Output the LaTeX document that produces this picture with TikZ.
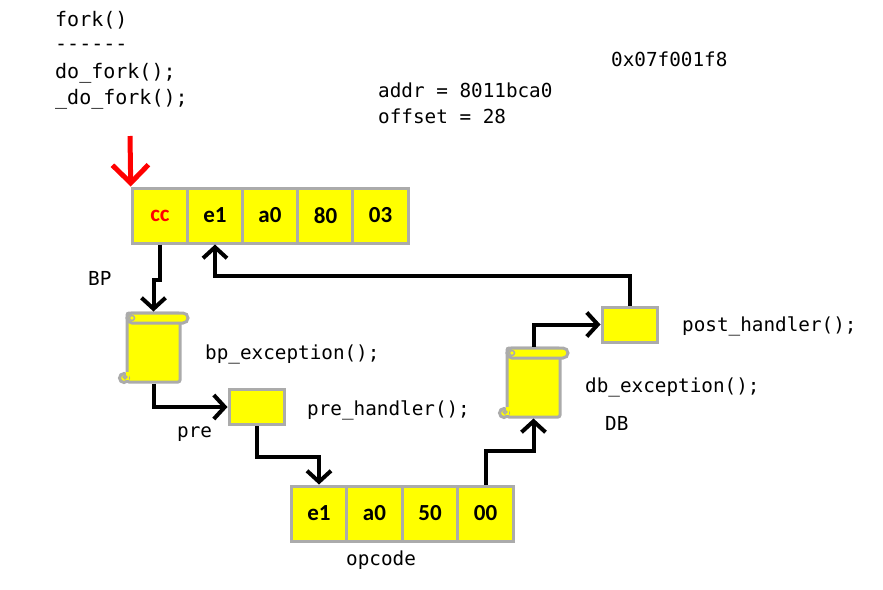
\documentclass[tikz,border=0pt]{standalone}
\usepackage{fontspec}
\setmonofont{DejaVu Sans Mono}
\newfontfamily\boxfont{Carlito}
\usetikzlibrary{arrows.meta}
\definecolor{boxyellow}{HTML}{FFFF00}
\definecolor{boxgrey}{HTML}{ABABAB}
\definecolor{arrred}{HTML}{FF0000}
\tikzset{
  bytebox/.style={draw=boxgrey, line width=3pt, fill=boxyellow, minimum width=55.5pt, minimum height=55pt, inner sep=0pt, font=\boxfont\bfseries\fontsize{23}{26}\selectfont},
  smallbox/.style={draw=boxgrey, line width=3pt, fill=boxyellow, minimum width=55pt, minimum height=35pt, inner sep=0pt},
  scrollbody/.style={draw=boxgrey, line width=3pt, fill=boxyellow, minimum width=53pt, minimum height=69pt, inner sep=0pt, rounded corners=2pt},
  scrollpart/.style={draw=boxgrey, line width=3pt, fill=boxyellow},
  code/.style={anchor=west, inner sep=0pt, font=\ttfamily\fontsize{19.3}{22}\selectfont},
  bigcode/.style={code, font=\ttfamily\fontsize{20}{22}\selectfont},
  conn/.style={draw=black, line width=4pt, -{Straight Barb[length=11pt, width=24pt, line width=4pt]}},
  redarrow/.style={draw=arrred, line width=5pt, -{Straight Barb[length=18pt, width=36pt, line width=5pt]}},
}
\newcommand{\scrolldeco}{%
  \filldraw[scrollpart, rounded corners=5pt] (127,313) rectangle (188,323);
  \draw[boxgrey, line width=1.5pt] (132,318) circle (2.5);
  \filldraw[scrollpart] (124,378) circle (4.5);
  \fill[boxyellow] (126,372) rectangle (129,380);
  \draw[boxgrey, line width=1.5pt] (125,377) circle (1.8);
}
\begin{document}
\begin{tikzpicture}[x=1pt, y=-1pt]
\useasboundingbox (0,0) rectangle (883,589);
% top byte row
\node[bytebox, text=arrred] (cc) at (160,215.5) {cc};
\node[bytebox] (e1) at (215,215.5) {e1};
\node[bytebox] (a0) at (270,215.5) {a0};
\node[bytebox] (x80) at (325.5,215.5) {80};
\node[bytebox] (x03) at (380.5,215.5) {03};
% bottom byte row
\node[bytebox] (e1b) at (319,513.5) {e1};
\node[bytebox] (a0b) at (374.5,513.5) {a0};
\node[bytebox] (x50) at (430,513.5) {50};
\node[bytebox] (x00) at (485.5,513.5) {00};
% small boxes
\node[smallbox] (pre) at (256.5,407) {};
\node[smallbox] (post) at (629.5,324.5) {};
% scrolls
\node[scrollbody] (bp) at (153.5,347.5) {};
\scrolldeco
\begin{scope}[shift={(380,35)}]
\node[scrollbody] (db) at (153.5,347.5) {};
\scrolldeco
\end{scope}
% texts
\node[bigcode] (t1) at (55,20) {fork()};
\node[bigcode] (t2) at (55,47) {------};
\node[bigcode] (t3) at (55,73) {do\_fork();};
\node[bigcode] (t4) at (55,99) {\_do\_fork();};
\node[code] (t5) at (611,59) {0x07f001f8};
\node[code] (t6) at (378,90) {addr = 8011bca0};
\node[code] (t7) at (378,116) {offset = 28};
\node[code] (t8) at (88,278) {BP};
\node[code] (t9) at (205,354) {bp\_exception();};
\node[code] (t10) at (307,410) {pre\_handler();};
\node[code] (t11) at (177,434) {pre};
\node[code] (t12) at (682,326) {post\_handler();};
\node[code] (t13) at (585,387) {db\_exception();};
\node[code] (t14) at (605,423) {DB};
\node[code] (t15) at (346,560) {opcode};
% connectors
\coordinate (redtop) at (130,136);
\draw[redarrow] (redtop) -- (cc.north west);
\draw[conn] (cc.south) -- ++(0,35) -| (bp.north);
\draw[conn] (bp.south) |- (pre.west);
\draw[conn] (pre.south) -- ++(0,31) -| (e1b.north);
\draw[conn] (x00.north) -- ++(0,-34) -| (db.south);
\draw[conn] (db.north) |- (post.west);
\draw[conn] (post.north) -- ++(0,-30) -| (e1.south);
\end{tikzpicture}
\end{document}
